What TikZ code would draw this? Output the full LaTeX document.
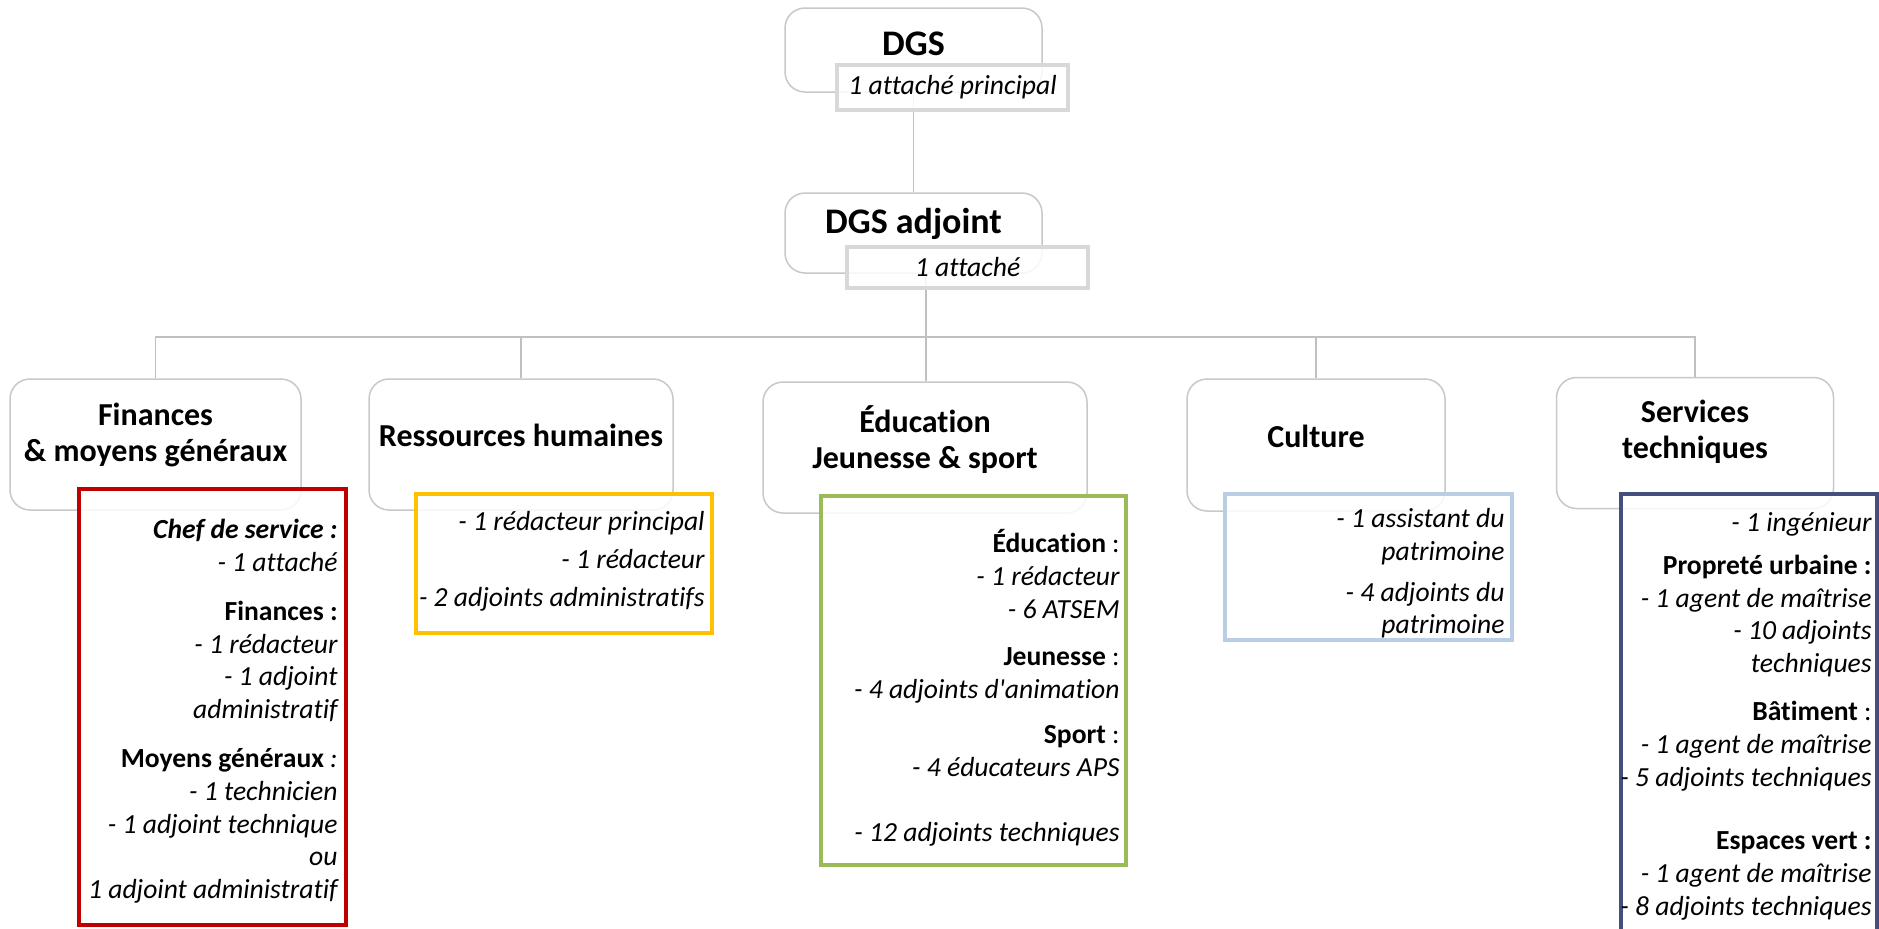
\documentclass[tikz,border=0pt]{standalone}
\usepackage{fontspec}
\setmainfont{Carlito}[Ligatures={NoCommon,TeXOff}]
\usetikzlibrary{positioning}

\definecolor{boxgray}{RGB}{200,200,200}
\definecolor{subgray}{RGB}{216,216,216}
\definecolor{linkgray}{RGB}{192,192,192}
\definecolor{finred}{RGB}{192,0,0}
\definecolor{rhgold}{RGB}{255,192,0}
\definecolor{edugreen}{RGB}{155,187,89}
\definecolor{cultblue}{RGB}{185,205,229}
\definecolor{servnavy}{RGB}{68,79,128}

\newcommand{\topfont}{\fontsize{18}{20}\selectfont\bfseries}
\newcommand{\headfont}{\fontsize{16}{18}\selectfont\bfseries}
\newcommand{\listfont}{\fontsize{13.8}{16.4}\selectfont\itshape}
\newcommand{\subhead}[1]{\textup{\bfseries #1}}

\begin{document}
\begin{tikzpicture}[x=0.5pt,y=-0.5pt,
  headbox/.style={draw=boxgray,line width=0.75pt,rounded corners=10pt,fill=white,inner sep=0pt},
  headtext/.style={font=\headfont,align=center,inner sep=0pt},
  subbox/.style={draw=subgray,line width=2pt,fill=white,fill opacity=0.85,text opacity=1,font=\listfont,inner sep=0pt},
  listbox/.style={line width=2pt,fill=white,fill opacity=0.85,inner sep=0pt},
  listtext/.style={font=\listfont,align=right,inner sep=0pt,anchor=north east},
  link/.style={draw=linkgray,line width=0.75pt}]
  \useasboundingbox (0,0) rectangle (1879,928);

  % direction
  \node[headbox,minimum width=128.5pt,minimum height=42pt] (dgs) at (913.5,50) {};
  \node[headtext,font=\topfont] (dgs-t) at (913.5,44) {DGS};
  \node[headbox,minimum width=128.5pt,minimum height=40pt] (dgsa) at (913.5,233) {};
  \node[headtext,font=\topfont] (dgsa-t) at (913.5,224) {DGS adjoint};

  % services
  \node[headbox,minimum width=145.5pt,minimum height=65.5pt] (fin) at (155.5,444.5) {};
  \node[headtext] (fin-t) at (155.5,435) {Finances\\\& moyens généraux};
  \node[headbox,minimum width=152pt,minimum height=65.5pt] (rh) at (521,444.5) {};
  \node[headtext] (rh-t) at (521,435) {Ressources humaines};
  \node[headbox,minimum width=162pt,minimum height=65.5pt] (edu) at (925,447.5) {};
  \node[headtext] (edu-t) at (925,440) {Éducation\\Jeunesse \& sport};
  \node[headbox,minimum width=129pt,minimum height=66pt] (cult) at (1316,445) {};
  \node[headtext] (cult-t) at (1316,436) {Culture};
  \node[headbox,minimum width=138.5pt,minimum height=65.5pt] (serv) at (1695,443) {};
  \node[headtext] (serv-t) at (1695,432) {Services\\techniques};

  % links
  \coordinate (hub) at (926,337);
  \draw[link] (dgs) -- (dgsa);
  \draw[link] (hub |- dgsa.south) -- (hub);
  \draw[link] (hub) -| (fin.north);
  \draw[link] (hub) -| (rh.north);
  \draw[link] (hub) -- (hub |- edu.north);
  \draw[link] (hub) -| (cult.north);
  \draw[link] (hub) -| (serv.north);

  % grades
  \node[subbox,minimum width=115.5pt,minimum height=22.5pt] (dgs-sub) at (952.5,87.5) {1 attaché principal};
  \node[subbox,minimum width=120.5pt,minimum height=20.5pt] (dgsa-sub) at (967.5,267.5) {1 attaché};

  \node[listbox,draw=finred,minimum width=133.5pt,minimum height=218pt] (fin-box) at (212.5,707) {};
  \node[listtext] (fin-list) at (338,519) {\subhead{\itshape Chef de service :}\\
    - 1 attaché\\[8pt]
    \subhead{Finances :}\\
    - 1 rédacteur\\
    - 1 adjoint\\
    administratif\\[8pt]
    \subhead{Moyens généraux} :\\
    - 1 technicien\\
    - 1 adjoint technique\\
    ou\\
    1 adjoint administratif};

  \node[listbox,draw=rhgold,minimum width=148pt,minimum height=69.5pt] (rh-box) at (564,563.5) {};
  \node[listtext] (rh-list) at (705,511) {- 1 rédacteur principal\\[2.5pt]
    - 1 rédacteur\\[2.5pt]
    - 2 adjoints administratifs};

  \node[listbox,draw=edugreen,minimum width=152.5pt,minimum height=184.5pt] (edu-box) at (973.5,680.5) {};
  \node[listtext] (edu-list) at (1120,529) {\subhead{Éducation} \textup{:}\\
    - 1 rédacteur\\
    - 6 ATSEM\\[7.5pt]
    \subhead{Jeunesse} \textup{:}\\
    - 4 adjoints d'animation\\[6pt]
    \subhead{Sport} \textup{:}\\
    - 4 éducateurs APS\\[16pt]
    - 12 adjoints techniques};

  \node[listbox,draw=cultblue,minimum width=143.5pt,minimum height=73pt] (cult-box) at (1368.5,567) {};
  \node[listtext] (cult-list) at (1505,508) {- 1 assistant du\\
    patrimoine\\[4pt]
    - 4 adjoints du\\
    patrimoine};

  \node[listbox,draw=servnavy,minimum width=128pt,minimum height=253pt] (serv-box) at (1749,747) {};
  \node[listtext] (serv-list) at (1872,512) {- 1 ingénieur\\[5pt]
    \subhead{Propreté urbaine :}\\
    - 1 agent de maîtrise\\
    - 10 adjoints\\
    techniques\\[7.5pt]
    \subhead{Bâtiment} \textup{:}\\
    - 1 agent de maîtrise\\
    - 5 adjoints techniques\\[15.5pt]
    \subhead{Espaces vert :}\\
    - 1 agent de maîtrise\\
    - 8 adjoints techniques};
\end{tikzpicture}
\end{document}
